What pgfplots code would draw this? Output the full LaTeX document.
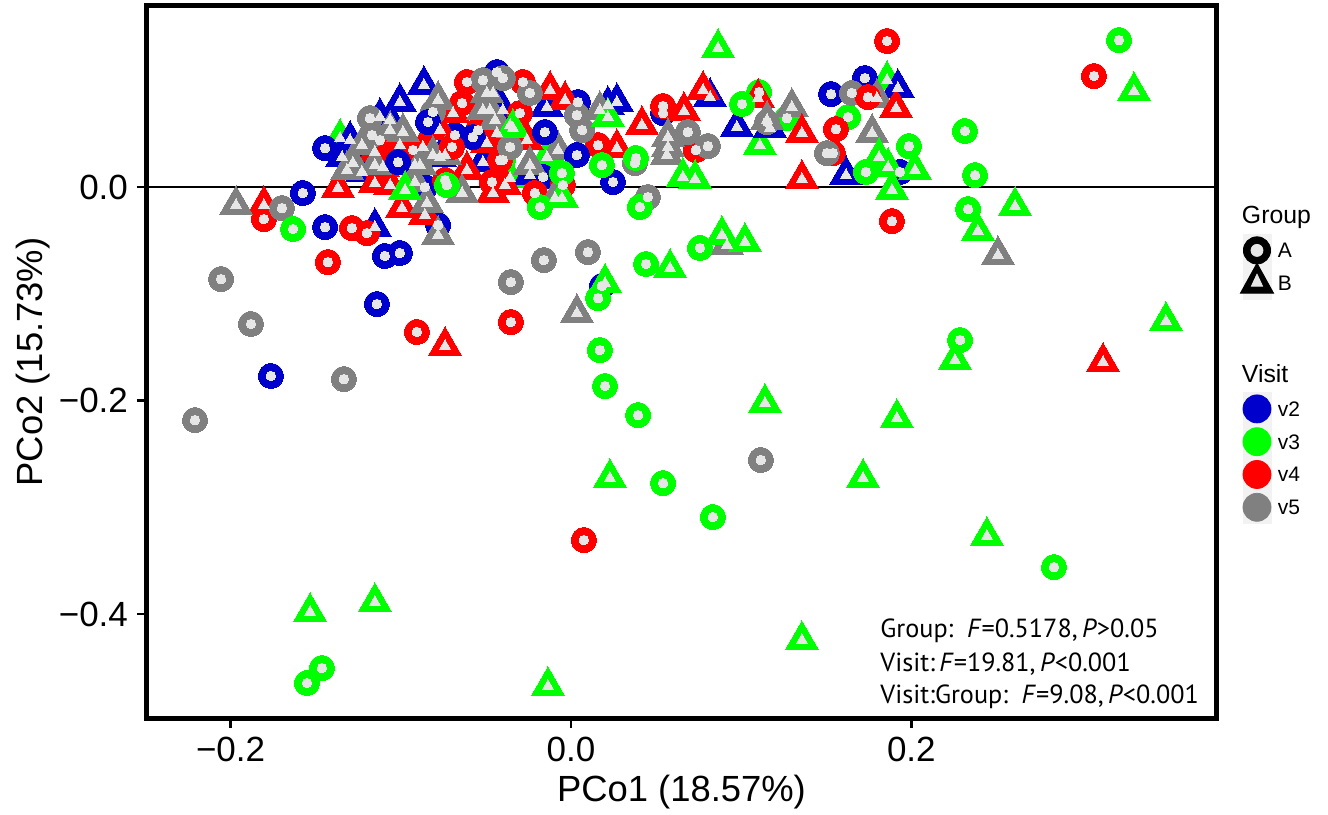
\documentclass[border=0pt]{standalone}
\usepackage{pgfplots}
\usepackage{pgfplotstable}
\usepackage{fontspec}
\pgfplotsset{compat=1.18}
\setmainfont{Liberation Sans}
\newfontfamily\notefont{PT Sans}
\definecolor{vb}{HTML}{0000CC}
\definecolor{vg}{HTML}{00FF00}
\definecolor{vr}{HTML}{FF0000}
\definecolor{vy}{HTML}{808080}
\definecolor{inner}{HTML}{E6E6E6}
\definecolor{keybg}{HTML}{F2F2F2}

\pgfplotstableread{
x y
-.0435 .1077
.0041 .0796
-.1575 -.0056
-.1445 -.0375
-.0858 0
-.0781 -.0356
-.1093 -.0646
-.1005 -.0618
-.1140 -.1096
-.1763 -.1770
.0182 -.0927
.1528 .0871
.1727 .1021
.1933 .0141
.0541 .0693
-.0164 .0094
-.0682 .0487
}\bluecirc
\pgfplotstableread{
x y
-.0153 .0515
.0035 .0300
.0247 .0047
-.1445 .0365
-.0840 .0609
-.1016 .0234
-.0576 .0468
}\bluecirctop
\pgfplotstableread{
x y
-.0864 .0956
-.1005 .0796
-.1122 .0656
-.1063 .0628
-.1298 .0440
-.1345 .0281
-.1228 .0141
-.1152 -.0375
.0270 .0796
.0217 .0768
-.0141 .0749
-.0400 .0721
-.0458 .0881
-.0517 .0234
-.0770 .0281
.0817 .0843
.0975 .0562
.1169 .0553
.1921 .0927
.1616 .0112
-.0917 .0206
-.0241 .0112
-.0358 .0581
}\bluetri
\pgfplotstableread{
x y
.1105 .0890
.1269 .0646
.1628 .0656
-.0400 .0253
}\greencirclow
\pgfplotstableread{
x y
.3220 .1377
.2315 .0525
.2374 .0112
.2333 -.0206
.2286 -.1433
.2838 -.3560
.0834 -.3091
.0541 -.2773
.0394 -.2136
.0200 -.1864
.0170 -.1527
.0159 -.1040
.0758 -.0571
.0441 -.0721
.0405 -.0187
.0182 .0206
.0382 .0272
-.0182 -.0187
-.0053 .0131
-.0729 .0019
-.1633 -.0393
-.1463 -.4506
-.1551 -.4646
.1005 .0778
.1986 .0384
.1733 .0141
}\greencirc
\pgfplotstableread{
x y
.1857 .1002
.1110 .0393
-.1357 .0459
-.0141 .0281
-.0358 .0084
}\greentrilow
\pgfplotstableread{
x y
.0864 .1302
.3308 .0899
.2609 -.0178
.2391 -.0412
.3496 -.1255
.2256 -.1621
.1915 -.2164
.1140 -.2023
.1716 -.2726
.0229 -.2726
.2444 -.3269
.1357 -.4244
-.0135 -.4674
-.1533 -.3981
-.1152 -.3888
.0200 -.0899
.0887 -.0450
.1022 -.0515
.0582 -.0759
.0658 .0094
.0729 .0075
.1810 .0281
.1863 .0187
.2021 .0159
.1886 -.0028
-.0341 .0553
.0217 .0656
-.0975 -.0028
-.0053 -.0103
}\greentri
\pgfplotstableread{
x y
.3073 .1040
.1857 .1368
.1886 -.0319
.0076 -.3307
-.0353 -.1265
-.0905 -.1358
-.1428 -.0703
-.1287 -.0384
-.1199 -.0431
-.1804 -.0300
-.0611 .0984
-.0640 .0787
-.0282 .0984
.0541 .0759
.0159 .0393
-.0464 .0047
-.0212 -.0056
-.0047 .0019
-.0740 .0066
-.0928 .0347
.0734 .0347
.1539 .0318
-.1122 .0440
-.0300 .0693
-.0546 .0534
-.0417 .0253
}\redcirc
\pgfplotstableread{
x y
.1745 .0843
.1557 .0543
-.0699 .0375
}\redcirctop
\pgfplotstableread{
x y
.3126 -.1639
-.0740 -.1489
-.1804 -.0169
-.0123 .0909
-.0035 .0815
.0417 .0581
.0270 .0365
-.1152 .0328
-.1105 .0187
-.1152 .0037
-.1063 .0019
-.1369 -.0009
-.0993 -.0197
-.0858 -.0262
-.0458 -.0056
-.0611 .0159
-.0870 .0375
.0664 .0712
.0776 .0909
.1099 .0834
.1357 .0075
-.0494 .0412
-.0435 .0506
-.0259 .0440
-.0693 .0693
-.0388 .0019
-.1005 .0393
-.0770 .0534
}\redtri
\pgfplotstableread{
x y
.1910 .0740
.1357 .0506
}\redtritop
\pgfplotstableread{
x y
-.0517 .1002
-.0400 .1021
-.0241 .0881
-.1181 .0646
.0035 .0674
.0065 .0534
-.0358 .0375
.0376 .0225
.0452 -.0094
-.1698 -.0197
-.2056 -.0862
-.1880 -.1283
-.2209 -.2183
-.1334 -.1799
-.0353 -.0890
-.0159 -.0684
.0100 -.0609
.1116 -.2557
.0687 .0515
.0805 .0384
.1152 .0609
.1651 .0881
.1504 .0318
-.1169 .0487
-.0811 .0703
}\graycirc
\pgfplotstableread{
x y
-.1968 -.0169
-.0781 -.0450
.0035 -.1180
.0917 -.0543
.2509 -.0637
-.0781 .0815
-.0987 .0515
.0170 .0721
.0570 .0468
.0570 .0375
.0564 .0300
-.0517 .0721
-.1316 .0159
-.1281 .0225
-.0241 .0206
-.0640 -.0056
-.0811 .0300
-.0917 .0047
-.0094 -.0103
-.0846 -.0150
-.0076 .0347
.1298 .0749
.1769 .0506
.1798 .0834
.1152 .0628
-.0446 .0628
-.1152 .0206
-.0476 .0721
-.0494 .0881
-.1063 .0534
-.1228 .0393
-.0887 .0206
-.0740 .0300
}\graytri

\pgfplotsset{
  ring/.style={only marks, mark=*, mark size=6.3pt, mark options={draw=#1, fill=#1, line width=0pt}},
  tri/.style={only marks, mark=triangle*, mark size=9.6pt, mark options={draw=#1, fill=#1, line width=0pt, line join=miter}},
  ringin/.style={only marks, mark=*, mark size=2.4pt, mark options={draw=inner, fill=inner, line width=0pt}},
  triin/.style={only marks, mark=triangle*, mark size=3.2pt, mark options={draw=inner, fill=inner, line width=0pt}},
  legbase/.style={scale only axis, width=534.5pt, height=356pt, hide axis, xmin=0, xmax=1, ymin=0, ymax=1,
    legend cell align=left,
    legend style={draw=none, fill=none, anchor=north west, inner sep=0pt, outer sep=0pt,
      font=\fontsize{10.5}{10.5}\selectfont, row sep=0pt,
      nodes={inner sep=0pt, outer sep=0pt, minimum height=16.2pt, text depth=0pt},
      /tikz/every odd column/.append style={column sep=2.2pt}}},
}
\newcommand{\keybox}{\path[draw=none,fill=none] (-8.3pt,-8pt) rectangle (8.3pt,8pt);\fill[keybg] (-7pt,-8pt) rectangle (7pt,8pt);}
\newcommand{\titlebox}{\path[draw=none,fill=none] (-8.3pt,-9.5pt) rectangle (8.3pt,7pt);}
\begin{document}
\begin{tikzpicture}[x=1pt,y=1pt]
\path[use as bounding box] (-73.5pt,-48pt) rectangle (590.5pt,359pt);
\begin{axis}[
  scale only axis, width=534.5pt, height=356pt,
  xmin=-0.2491, xmax=0.3790, ymin=-0.4974, ymax=0.1696,
  axis line style={line width=2.5pt},
  tick style={black, line width=1.4pt},
  tick align=outside, major tick length=5pt,
  xtick pos=bottom, ytick pos=left,
  xtick={-0.2,0,0.2}, xticklabels={−0.2,0.0,0.2},
  ytick={-0.4,-0.2,0}, yticklabels={−0.4,−0.2,0.0},
  tick label style={font=\fontsize{17.5}{17.5}\selectfont},
  xticklabel style={yshift=-1pt},
  yticklabel style={xshift=-1pt},
  xlabel={PCo1 (18.57\%)}, ylabel={PCo2 (15.73\%)},
  label style={font=\fontsize{18.2}{18.2}\selectfont},
  xlabel style={yshift=0pt}, ylabel style={yshift=-2.5pt},
]
\addplot[tri=vg] table {\greentrilow};
\addplot[ring=vg] table {\greencirclow};
\addplot[tri=vb] table {\bluetri};
\addplot[ring=vb] table {\bluecirc};
\addplot[tri=vr] table {\redtri};
\addplot[ring=vr] table {\redcirc};
\addplot[tri=vy] table {\graytri};
\addplot[ring=vy] table {\graycirc};
\addplot[ring=vb] table {\bluecirctop};
\addplot[tri=vr] table {\redtritop};
\addplot[ring=vr] table {\redcirctop};
\addplot[tri=vg] table {\greentri};
\addplot[ring=vg] table {\greencirc};
\addplot[black, line width=0.6pt, no marks] coordinates {(-0.2491,0) (0.3790,0)};
\addplot[triin] table {\greentrilow};
\addplot[ringin] table {\greencirclow};
\addplot[triin] table {\bluetri};
\addplot[ringin] table {\bluecirc};
\addplot[ringin] table {\bluecirctop};
\addplot[triin] table {\redtri};
\addplot[triin] table {\redtritop};
\addplot[ringin] table {\redcirc};
\addplot[ringin] table {\redcirctop};
\addplot[triin] table {\graytri};
\addplot[ringin] table {\graycirc};
\addplot[triin] table {\greentri};
\addplot[ringin] table {\greencirc};
\node[anchor=west, inner sep=0pt, font=\notefont\fontsize{13.1}{13.1}\selectfont] at (axis cs:0.1816,-0.4159) {Group: \,\textit{F}=0.5178,\,\textit{P}>0.05};
\node[anchor=west, inner sep=0pt, font=\notefont\fontsize{13.1}{13.1}\selectfont] at (axis cs:0.1816,-0.4468) {Visit:\,\textit{F}=19.81,\,\textit{P}<0.001};
\node[anchor=west, inner sep=0pt, font=\notefont\fontsize{13.1}{13.1}\selectfont] at (axis cs:0.1816,-0.4777) {Visit:Group: \,\textit{F}=9.08,\,\textit{P}<0.001};
\end{axis}
% Group legend
\begin{axis}[legbase, legend style={at={(axis description cs:1.0228,0.7292)}}]
\addlegendimage{legend image code/.code={\titlebox}}
\addlegendentry{\makebox[0pt][l]{\hspace{-18.5pt}\fontsize{12.4}{12.4}\selectfont Group}}
\addlegendimage{legend image code/.code={\keybox
  \fill[black] (0pt,0pt) circle (6.8pt);
  \fill[inner] (0pt,0pt) circle (3pt);}}
\addlegendentry{A}
\addlegendimage{legend image code/.code={\keybox
  \fill[black,overlay] (0pt,10pt) -- (-8.3pt,-5pt) -- (8.3pt,-5pt) -- cycle;
  \fill[inner,overlay] (0pt,4.5pt) -- (-2.8pt,-1.5pt) -- (2.8pt,-1.5pt) -- cycle;}}
\addlegendentry{B}
\end{axis}
% Visit legend
\begin{axis}[legbase, legend style={at={(axis description cs:1.0228,0.5066)}}]
\addlegendimage{legend image code/.code={\titlebox}}
\addlegendentry{\makebox[0pt][l]{\hspace{-18.5pt}\fontsize{12.4}{12.4}\selectfont Visit}}
\addlegendimage{legend image code/.code={\keybox
  \fill[vb] (0pt,0pt) circle (7pt);}}
\addlegendentry{v2}
\addlegendimage{legend image code/.code={\keybox
  \fill[vg] (0pt,0pt) circle (7pt);}}
\addlegendentry{v3}
\addlegendimage{legend image code/.code={\keybox
  \fill[vr] (0pt,0pt) circle (7pt);}}
\addlegendentry{v4}
\addlegendimage{legend image code/.code={\keybox
  \fill[vy] (0pt,0pt) circle (7pt);}}
\addlegendentry{v5}
\end{axis}
\end{tikzpicture}
\end{document}
